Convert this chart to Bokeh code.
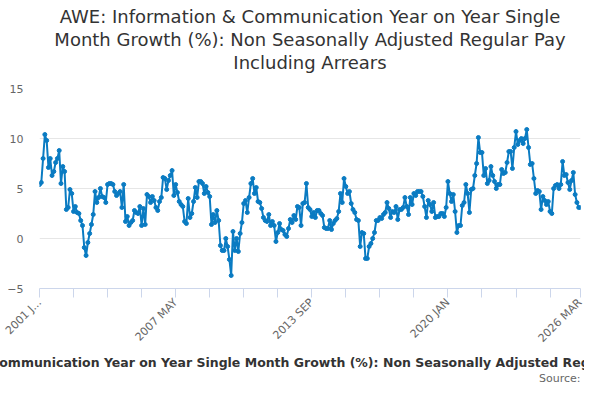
from math import pi

from bokeh.embed import file_html
from bokeh.models import ColumnDataSource, FixedTicker, Range1d, Title
from bokeh.plotting import figure
from bokeh.resources import INLINE

# monthly values, 2001 JAN .. 2026 MAR
growth = [
    5.4, 5.6, 8.0, 10.4, 9.8, 7.1, 8.0, 6.3, 6.7, 7.6,
    8.0, 8.8, 5.5, 7.2, 6.7, 2.9, 3.1, 4.9, 4.5, 2.7,
    3.2, 2.6, 2.5, 1.8, 1.3, -0.9, -1.7, -0.4, 0.5, 1.4,
    2.4, 4.7, 3.6, 4.1, 5.0, 4.2, 4.1, 3.6, 5.4, 5.5,
    5.5, 5.4, 4.7, 4.3, 4.5, 4.7, 3.1, 5.4, 1.7, 2.2,
    1.3, 1.6, 1.8, 2.8, 2.6, 2.5, 3.2, 1.3, 3.0, 1.4,
    4.4, 4.2, 3.6, 4.2, 3.8, 3.1, 2.8, 3.7, 4.1, 6.1,
    6.0, 4.9, 5.8, 6.3, 6.8, 4.3, 5.4, 4.6, 3.7, 3.4,
    3.2, 1.7, 1.5, 4.0, 2.1, 2.5, 3.7, 5.1, 4.1, 5.7,
    5.7, 5.5, 4.5, 5.2, 4.6, 4.2, 1.4, 2.4, 1.6, 2.8,
    1.8, -0.7, -1.2, -1.2, 0.0, -0.8, -2.1, -3.7, 0.7, -1.2,
    0.0, -1.3, 0.5, 1.6, 3.5, 3.8, 2.6, 4.1, 5.5, 6.0,
    4.5, 5.1, 3.7, 3.6, 3.0, 2.1, 1.8, 1.7, 2.4, 1.3,
    1.7, 1.3, -0.3, 0.6, 1.5, 0.9, 0.8, 0.4, 0.2, 1.0,
    1.9, 1.6, 2.3, 1.9, 3.2, 3.1, 1.3, 3.5, 3.6, 5.5,
    3.1, 2.9, 2.2, 2.6, 2.1, 2.8, 2.8, 2.5, 2.3, 1.1,
    1.0, 1.0, 1.8, 0.9, 1.5, 1.8, 2.0, 2.7, 4.5, 3.6,
    6.0, 5.2, 4.5, 4.7, 3.5, 2.9, 2.6, 1.9, 1.8, -0.8,
    0.6, 0.5, -2.0, -2.0, -0.8, -0.5, 0.0, 0.6, 1.8, 1.8,
    2.1, 2.0, 2.4, 2.6, 3.6, 3.0, 2.1, 2.7, 2.6, 3.2,
    1.9, 2.9, 2.9, 3.1, 4.1, 3.2, 2.4, 4.1, 3.4, 4.5,
    4.3, 4.7, 4.7, 4.7, 4.2, 3.2, 2.1, 3.8, 3.4, 2.7,
    3.6, 2.1, 2.2, 2.2, 2.5, 2.5, 2.2, 3.1, 5.7, 4.5,
    3.7, 4.4, 2.7, 0.6, 1.3, 1.3, 3.3, 3.6, 5.4, 4.5,
    2.6, 4.9, 5.0, 6.3, 7.5, 10.1, 8.6, 8.6, 6.3, 7.0,
    5.5, 5.8, 7.2, 6.3, 5.7, 5.0, 5.4, 5.4, 6.9, 6.5,
    6.6, 7.6, 8.7, 8.7, 7.0, 9.1, 10.7, 9.4, 9.8, 10.0,
    9.5, 10.0, 10.9, 9.1, 7.4, 7.5, 6.0, 4.5, 4.8, 4.7,
    2.9, 4.2, 3.8, 3.4, 3.7, 2.7, 2.5, 5.0, 5.3, 5.4,
    5.0, 5.4, 7.7, 6.3, 6.4, 5.6, 4.9, 5.8, 6.6, 4.4,
    3.6, 3.1, 3.1,
]

tick_positions = [0, 19, 38, 57, 76, 95, 114, 133, 152, 171, 190, 209, 228, 247, 266, 285, 302]
tick_labels = {0: "2001 J...", 76: "2007 MAY", 152: "2013 SEP", 228: "2020 JAN", 302: "2026 MAR"}
y_ticks = [-5, 0, 5, 10, 15]

title_lines = [
    "AWE: Information & Communication Year on Year Single",
    "Month Growth (%): Non Seasonally Adjusted Regular Pay",
    "Including Arrears",
]
x_title = ("AWE: Information & Communication Year on Year Single Month Growth (%): "
           "Non Seasonally Adjusted Regular Pay Including Arrears")

FONT = "DejaVu Sans"
BLUE = "#0a7bc2"

src = ColumnDataSource(data=dict(x=list(range(len(growth))), y=growth))

p = figure(width=584, height=384, output_backend="svg", toolbar_location=None,
           x_range=Range1d(0, len(growth) - 1), y_range=Range1d(-5, 15),
           min_border_left=39, min_border_right=4, min_border_top=88, min_border_bottom=80)
p.title = None
p.outline_line_color = None
p.background_fill_color = "white"
p.border_fill_color = "white"

p.line("x", "y", source=src, line_color=BLUE, line_width=2)
p.scatter("x", "y", source=src, size=4, fill_color=BLUE, line_color=BLUE)

# blank spacer between the frame and the title block
p.add_layout(Title(text=" ", text_font=FONT, text_font_size="12px", standoff=0), "above")
# title lines, outermost added last
for txt in reversed(title_lines):
    p.add_layout(Title(text=txt, align="center", text_font=FONT, text_font_size="18px",
                       text_font_style="normal", text_color="#333333",
                       standoff=0, offset=0), "above")

p.xaxis.ticker = FixedTicker(ticks=tick_positions)
p.xaxis.major_label_overrides = {t: tick_labels.get(t, "") for t in tick_positions}
p.xaxis.major_label_orientation = pi / 4
p.xaxis.major_label_standoff = 3
p.xaxis.major_label_text_font = FONT
p.xaxis.major_label_text_font_size = "11px"
p.xaxis.major_label_text_color = "#666666"
p.xaxis.axis_line_color = "#ccd6eb"
p.xaxis.major_tick_line_color = "#ccd6eb"
p.xaxis.major_tick_out = 9
p.xaxis.major_tick_in = 0
p.xaxis.minor_tick_line_color = None
p.xgrid.grid_line_color = None

p.yaxis.ticker = FixedTicker(ticks=y_ticks)
p.yaxis.axis_line_color = None
p.yaxis.major_tick_line_color = None
p.yaxis.major_tick_out = 0
p.yaxis.major_tick_in = 0
p.yaxis.minor_tick_line_color = None
p.yaxis.major_label_standoff = 16
p.yaxis.major_label_text_font = FONT
p.yaxis.major_label_text_font_size = "11px"
p.yaxis.major_label_text_color = "#666666"
p.ygrid.grid_line_color = "#e6e6e6"

p.add_layout(Title(text=x_title, align="center", text_font=FONT, text_font_size="12.5px",
                   text_font_style="bold", text_color="#333333", standoff=0), "below")
p.add_layout(Title(text="Source:", align="right", text_font=FONT, text_font_size="11px",
                   text_font_style="normal", text_color="#666666", standoff=0), "below")

open("out.html", "w").write(file_html(p, INLINE))
